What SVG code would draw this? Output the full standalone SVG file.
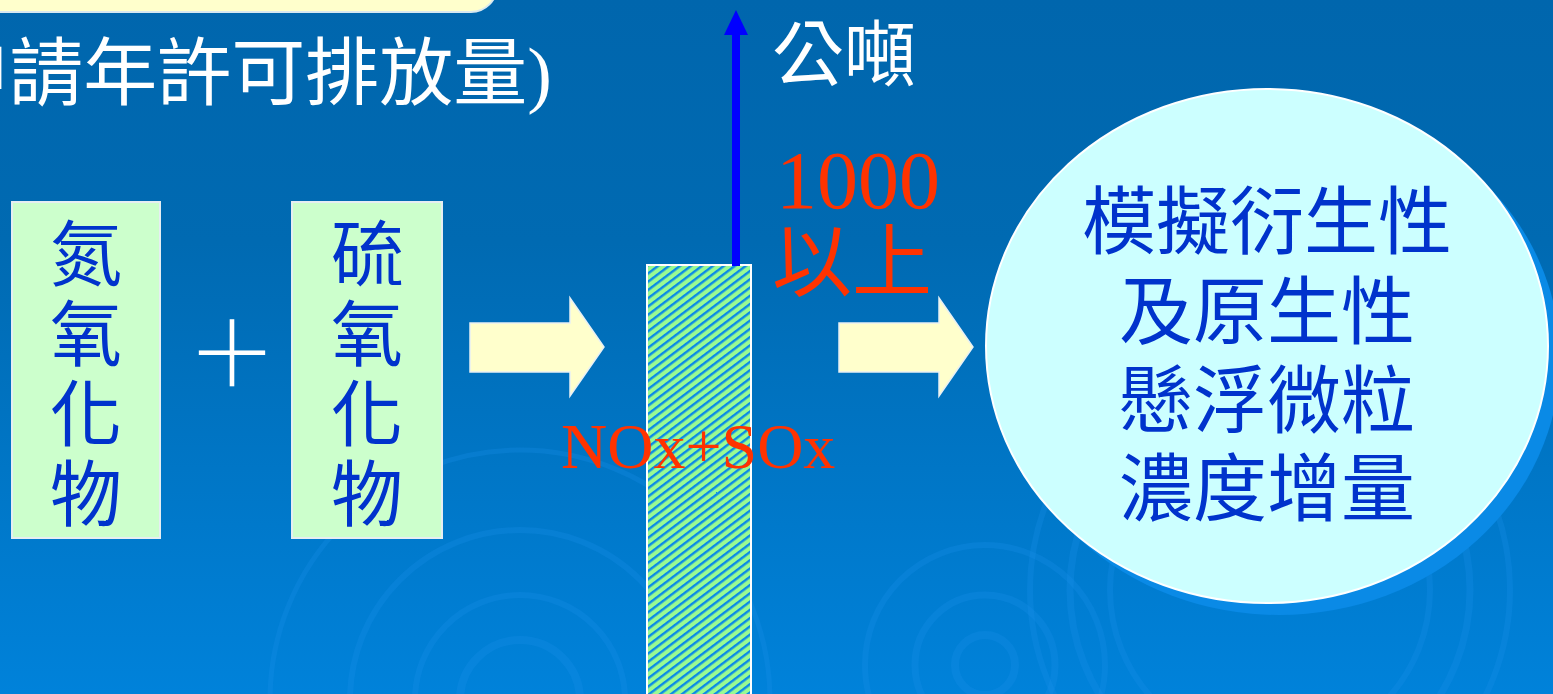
<svg xmlns="http://www.w3.org/2000/svg" width="1553" height="694" viewBox="0 0 1553 694">
  <defs>
    <linearGradient id="bg" x1="0" y1="0" x2="0" y2="1">
      <stop offset="0" stop-color="#0066ad"/>
      <stop offset="0.35" stop-color="#006ab2"/>
      <stop offset="1" stop-color="#0082da"/>
    </linearGradient>
    <pattern id="stripes" patternUnits="userSpaceOnUse" width="6.6" height="6.6" patternTransform="rotate(53)">
      <rect width="6.6" height="6.6" fill="#99fb92"/>
      <rect width="2.4" height="6.6" fill="#0a8ae6"/>
    </pattern>
    <style>
      .cjk { font-family: "Liberation Serif", "Noto Sans CJK TC", serif; }
      .box { fill: #ccffcc; stroke: #e6eef2; stroke-width: 2; }
      .boxtxt { fill: #0033cc; font-size: 72px; text-anchor: middle; }
      .ovtxt { fill: #0033cc; font-size: 74px; text-anchor: middle; }
      .red { fill: #ff3300; font-family: "Liberation Serif", "Noto Sans CJK TC", serif; }
      .blockarrow { fill: #ffffcc; stroke: #e8f0f4; stroke-width: 1.5; }
      .ripple { fill: none; stroke: #1a90ea; stroke-opacity: 0.28; }
    </style>
  </defs>

  <g id="background">
    <rect width="1553" height="694" fill="url(#bg)"/>
    <g class="ripple">
      <circle cx="520" cy="700" r="60" stroke-width="8"/>
      <circle cx="520" cy="700" r="105" stroke-width="6"/>
      <circle cx="520" cy="700" r="170" stroke-width="6"/>
      <circle cx="520" cy="700" r="250" stroke-width="5"/>
      <circle cx="985" cy="665" r="30" stroke-width="8"/>
      <circle cx="985" cy="665" r="70" stroke-width="7"/>
      <circle cx="985" cy="665" r="120" stroke-width="6"/>
      <circle cx="1270" cy="590" r="200" stroke-width="7"/>
      <circle cx="1270" cy="590" r="160" stroke-width="6"/>
      <circle cx="1270" cy="590" r="240" stroke-width="6"/>
    </g>
  </g>

  <g id="title-box">
    <rect x="-30" y="-40" width="527" height="52" rx="26" fill="#ffffcc" stroke="#d8e8f0" stroke-width="2"/>
  </g>
  <g id="title">
    <text class="cjk" x="552" y="99" font-size="74" fill="#ffffff" text-anchor="end">(申請年許可排放量)</text>
  </g>

  <g id="node-nox">
    <rect class="box" x="12" y="202" width="148" height="336"/>
    <text class="cjk boxtxt" x="86" y="280">氮</text>
    <text class="cjk boxtxt" x="86" y="360">氧</text>
    <text class="cjk boxtxt" x="86" y="440">化</text>
    <text class="cjk boxtxt" x="86" y="520">物</text>
  </g>

  <g id="plus">
    <text x="232" y="386" font-family="Noto Sans CJK TC, sans-serif" font-size="90" font-weight="300" fill="#ffffff" text-anchor="middle">＋</text>
  </g>

  <g id="node-sox">
    <rect class="box" x="292" y="202" width="150" height="336"/>
    <text class="cjk boxtxt" x="367" y="280">硫</text>
    <text class="cjk boxtxt" x="367" y="360">氧</text>
    <text class="cjk boxtxt" x="367" y="440">化</text>
    <text class="cjk boxtxt" x="367" y="520">物</text>
  </g>

  <g id="node-bar">
    <rect x="647" y="265" width="104" height="440" fill="url(#stripes)" stroke="#ffffff" stroke-width="2"/>
  </g>

  <g id="connectors">
    <path class="blockarrow" d="M470,323 H570 V298 L604,347 L570,396 V372 H470 Z"/>
    <path class="blockarrow" d="M839,323 H939 V298 L973,347 L939,396 V372 H839 Z"/>
    <line x1="736" y1="266" x2="736" y2="32" stroke="#0000ff" stroke-width="8"/>
    <polygon points="736,10 748,35 724,35" fill="#0000ff"/>
  </g>

  <g id="labels">
    <text class="cjk" x="772" y="80" font-size="72" fill="#ffffff">公噸</text>
    <text class="red" x="776" y="208" font-size="82">1000</text>
    <text class="red" x="772" y="290" font-size="80">以上</text>
    <text class="red" x="561" y="468" font-size="64">NOx+SOx</text>
  </g>

  <g id="node-result">
    <ellipse cx="1279" cy="358" rx="281" ry="257" fill="#0a8ae6"/>
    <ellipse cx="1267" cy="346" rx="281" ry="257" fill="#ccffff" stroke="#ffffff" stroke-width="2"/>
    <text class="cjk ovtxt" x="1267" y="248">模擬衍生性</text>
    <text class="cjk ovtxt" x="1267" y="338">及原生性</text>
    <text class="cjk ovtxt" x="1267" y="427">懸浮微粒</text>
    <text class="cjk ovtxt" x="1267" y="515">濃度增量</text>
  </g>
</svg>
